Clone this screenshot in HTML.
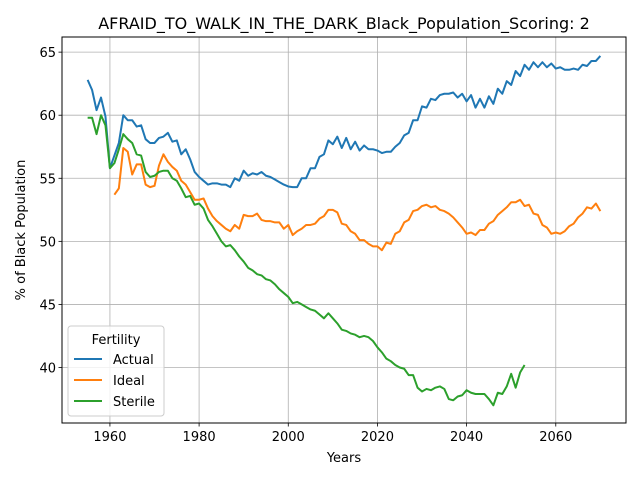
<!DOCTYPE html>
<html><head><meta charset="utf-8"><style>
body{margin:0;background:#fff}
svg{font-family:"DejaVu Sans","Liberation Sans",sans-serif}
</style></head><body>
<svg id="chart" width="640" height="480" viewBox="0 0 640 480">
<rect width="640" height="480" fill="#fff"/>
<g id="grid"></g>
<g id="series"></g>
<rect x="62" y="37" width="564" height="386" fill="none" stroke="#000" stroke-width="1"/>
<g id="ticks"></g>
<text x="344" y="29" text-anchor="middle" font-size="16">AFRAID_TO_WALK_IN_THE_DARK_Black_Population_Scoring: 2</text>
<text x="344" y="462" text-anchor="middle" font-size="13">Years</text>
<text transform="translate(25,230) rotate(-90)" text-anchor="middle" font-size="13">% of Black Population</text>
<g>
<rect x="68" y="326" width="96" height="90" rx="3" fill="#fff" fill-opacity="0.8" stroke="#ccc"/>
<text x="116" y="344" text-anchor="middle" font-size="13">Fertility</text>
<g><line x1="74" y1="359" x2="102" y2="359" stroke="#1f77b4" stroke-width="2"/><text x="113" y="364" font-size="13">Actual</text></g>
<g><line x1="74" y1="380" x2="102" y2="380" stroke="#ff7f0e" stroke-width="2"/><text x="113" y="385" font-size="13">Ideal</text></g>
<g><line x1="74" y1="401" x2="102" y2="401" stroke="#2ca02c" stroke-width="2"/><text x="113" y="406" font-size="13">Sterile</text></g>
</g>
</svg>
<script>
const actualStart = 1955;
const actualValues = [62.8,62.0,60.4,61.4,59.9,55.8,56.8,57.8,60.0,59.6,59.6,59.1,59.2,58.1,57.8,57.8,58.2,58.3,58.6,57.9,58.0,56.9,57.3,56.5,55.5,55.1,54.8,54.5,54.6,54.6,54.5,54.5,54.3,55.0,54.8,55.6,55.2,55.4,55.3,55.5,55.2,55.1,54.9,54.7,54.5,54.35,54.3,54.3,55.0,55.0,55.8,55.8,56.7,56.9,58.0,57.7,58.3,57.4,58.2,57.3,57.9,57.2,57.6,57.3,57.3,57.2,57.0,57.1,57.1,57.5,57.8,58.4,58.6,59.6,59.6,60.7,60.6,61.3,61.2,61.6,61.7,61.7,61.8,61.4,61.7,61.1,61.6,60.6,61.3,60.6,61.5,60.9,62.1,61.7,62.7,62.4,63.5,63.1,64.0,63.6,64.2,63.8,64.2,63.8,64.1,63.7,63.8,63.6,63.6,63.7,63.6,64.0,63.9,64.3,64.3,64.7];
const idealStart = 1961;
const idealValues = [53.7,54.2,57.4,57.1,55.3,56.1,56.1,54.5,54.3,54.4,56.0,56.9,56.3,55.9,55.6,54.8,54.5,53.9,53.3,53.3,53.4,52.6,52.0,51.6,51.3,51.0,50.8,51.3,51.0,52.1,52.0,52.0,52.2,51.7,51.6,51.6,51.5,51.5,51.0,51.3,50.5,50.8,51.0,51.3,51.3,51.4,51.8,52.0,52.5,52.5,52.3,51.4,51.3,50.8,50.6,50.1,50.1,49.8,49.6,49.6,49.3,49.9,49.8,50.6,50.8,51.5,51.7,52.4,52.5,52.8,52.9,52.7,52.8,52.5,52.4,52.2,51.9,51.5,51.1,50.6,50.7,50.5,50.9,50.9,51.4,51.6,52.1,52.4,52.7,53.1,53.1,53.3,52.8,52.9,52.2,52.1,51.3,51.1,50.6,50.7,50.6,50.8,51.2,51.4,51.9,52.2,52.7,52.6,53.0,52.4];
const sterileStart = 1955;
const sterileValues = [59.8,59.8,58.5,60.0,59.2,55.8,56.2,57.3,58.5,58.1,57.8,56.9,56.8,55.5,55.1,55.2,55.5,55.6,55.6,55.0,54.8,54.2,53.5,53.6,52.9,53.0,52.6,51.7,51.2,50.6,50.0,49.6,49.7,49.3,48.8,48.4,47.9,47.7,47.4,47.3,47.0,46.9,46.6,46.2,45.9,45.6,45.1,45.2,45.0,44.8,44.6,44.5,44.2,43.9,44.3,43.9,43.5,43.0,42.9,42.7,42.6,42.4,42.5,42.4,42.1,41.6,41.2,40.7,40.5,40.2,40.0,39.9,39.4,39.4,38.4,38.1,38.3,38.2,38.4,38.5,38.3,37.5,37.4,37.7,37.8,38.2,38.0,37.9,37.9,37.9,37.5,37.0,38.0,37.9,38.5,39.5,38.4,39.6,40.2];
const xTicks = [1960,1980,2000,2020,2040,2060];
const yTicks = [40,45,50,55,60,65];

const L=62,R=626,T=37,B=423;
const xMin=1949.25,xMax=2075.75,yMin=35.6,yMax=66.2;
const sx=v=>L+(v-xMin)/(xMax-xMin)*(R-L);
const sy=v=>B-(v-yMin)/(yMax-yMin)*(B-T);
const NS='http://www.w3.org/2000/svg';
const grid=document.getElementById('grid'),ticks=document.getElementById('ticks'),series=document.getElementById('series');
function mk(tag,attrs,parent){const e=document.createElementNS(NS,tag);for(const k in attrs)e.setAttribute(k,attrs[k]);parent.appendChild(e);return e;}
xTicks.forEach(t=>{
  const x=sx(t);
  const g=mk('line',{x1:x,x2:x,y1:T,y2:B,stroke:'#b0b0b0','stroke-width':0.8},grid);
  
  
  mk('line',{x1:x,x2:x,y1:B,y2:B+3.5,stroke:'#000','stroke-width':0.8},ticks);
  const tx=mk('text',{x:x,y:B+18,'text-anchor':'middle','font-size':13},ticks);
  tx.textContent=t;
  
  
});
yTicks.forEach(t=>{
  const y=sy(t);
  const g=mk('line',{x1:L,x2:R,y1:y,y2:y,stroke:'#b0b0b0','stroke-width':0.8},grid);
  
  
  mk('line',{x1:L-3.5,x2:L,y1:y,y2:y,stroke:'#000','stroke-width':0.8},ticks);
  const tx=mk('text',{x:L-6,y:y+5,'text-anchor':'end','font-size':13},ticks);
  tx.textContent=t;
  
  
});
function line(start,vals,color,name){
  const d=vals.map((v,i)=>(i?'L':'M')+sx(start+i).toFixed(2)+' '+sy(v).toFixed(2)).join(' ');
  const p=mk('path',{d:d,fill:'none',stroke:color,'stroke-width':2,'stroke-linejoin':'round'},series);
  
  
}
line(actualStart,actualValues,'#1f77b4','actual-line');
line(idealStart,idealValues,'#ff7f0e','ideal-line');
line(sterileStart,sterileValues,'#2ca02c','sterile-line');
</script>
</body></html>
